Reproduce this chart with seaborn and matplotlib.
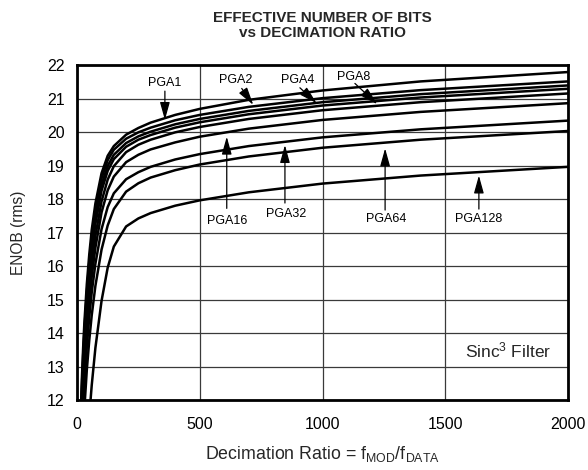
import numpy as np
import pandas as pd
import matplotlib
matplotlib.use("Agg")
import matplotlib.pyplot as plt
import seaborn as sns

# ---- data ----
decimation = [15, 20, 25, 30, 40, 50, 60, 75, 100, 125, 150, 200, 250, 300, 400, 500, 700, 1000, 1400, 2000]

enob_c0 = [11.50, 12.66, 13.56, 14.30, 15.46, 16.35, 17.08, 17.87, 18.77, 19.29, 19.58, 19.92, 20.12, 20.28, 20.51, 20.69, 20.96, 21.24, 21.51, 21.79]
enob_c1 = [11.26, 12.43, 13.33, 14.06, 15.22, 16.11, 16.82, 17.67, 18.61, 19.16, 19.47, 19.80, 19.99, 20.13, 20.35, 20.51, 20.75, 21.01, 21.25, 21.51]
enob_c2 = [11.05, 12.21, 13.11, 13.85, 15.01, 15.90, 16.62, 17.46, 18.42, 18.99, 19.32, 19.67, 19.87, 20.01, 20.23, 20.39, 20.63, 20.89, 21.13, 21.39]
enob_c3 = [10.84, 12.00, 12.90, 13.64, 14.80, 15.69, 16.41, 17.26, 18.25, 18.84, 19.19, 19.56, 19.77, 19.91, 20.13, 20.29, 20.53, 20.79, 21.03, 21.29]
enob_c4 = [10.45, 11.62, 12.52, 13.25, 14.42, 15.31, 16.03, 16.90, 17.93, 18.58, 18.98, 19.40, 19.62, 19.77, 19.99, 20.15, 20.39, 20.65, 20.89, 21.15]
enob_c5 = [10.10, 11.26, 12.17, 12.90, 14.06, 14.96, 15.68, 16.55, 17.60, 18.26, 18.67, 19.10, 19.32, 19.48, 19.69, 19.86, 20.10, 20.36, 20.60, 20.86]
enob_c6 = [9.63, 10.79, 11.69, 12.43, 13.59, 14.48, 15.21, 16.07, 17.10, 17.76, 18.17, 18.59, 18.80, 18.96, 19.18, 19.34, 19.58, 19.84, 20.08, 20.34]
enob_c7 = [8.94, 10.10, 11.00, 11.74, 12.90, 13.79, 14.53, 15.41, 16.49, 17.21, 17.70, 18.22, 18.47, 18.64, 18.86, 19.03, 19.27, 19.53, 19.77, 20.03]
enob_c8 = [5.44, 6.89, 8.02, 8.94, 10.39, 11.52, 12.44, 13.56, 14.96, 15.95, 16.58, 17.18, 17.42, 17.58, 17.80, 17.96, 18.20, 18.46, 18.70, 18.96]

series_names = ["c0", "c1", "c2", "c3", "c4", "c5", "c6", "c7", "c8"]
series_values = [enob_c0, enob_c1, enob_c2, enob_c3, enob_c4, enob_c5, enob_c6, enob_c7, enob_c8]

pga_labels = ["PGA1", "PGA2", "PGA4", "PGA8", "PGA16", "PGA32", "PGA64", "PGA128"]
label_x = [358, 646, 900, 1128, 613, 851, 1259, 1637]
label_y = [21.46, 21.55, 21.55, 21.64, 17.34, 17.55, 17.40, 17.40]
arrow_start_x = [358, 671, 908, 1132, 610, 847, 1255, 1637]
arrow_start_y = [21.22, 21.30, 21.32, 21.45, 17.72, 17.88, 17.67, 17.70]
arrow_tip_x = [358, 718, 976, 1223, 610, 847, 1255, 1637]
arrow_tip_y = [20.36, 20.81, 20.86, 20.83, 19.86, 19.61, 19.51, 18.70]

x_ticks = [0, 500, 1000, 1500, 2000]
y_ticks = list(range(12, 23))

# ---- build long-form table ----
rows = []
for name, vals in zip(series_names, series_values):
    for xv, yv in zip(decimation, vals):
        rows.append({"x": xv, "y": yv, "series": name})
df = pd.DataFrame(rows)

sns.set_theme(style="white")
plt.rcParams["font.family"] = ["Liberation Sans", "DejaVu Sans"]
plt.rcParams["mathtext.fontset"] = "custom"
plt.rcParams["mathtext.rm"] = "Liberation Sans"
plt.rcParams["mathtext.it"] = "Liberation Sans:italic"
plt.rcParams["mathtext.bf"] = "Liberation Sans:bold"

fig = plt.figure(figsize=(5.88, 4.70), dpi=100)
ax = fig.add_axes([77 / 588, 1 - 400 / 470, (568 - 77) / 588, (400 - 65) / 470])

sns.lineplot(data=df, x="x", y="y", hue="series", palette=["black"] * len(series_names),
             legend=False, ax=ax, linewidth=1.8, sort=True, estimator=None)

ax.set_xlim(0, 2000)
ax.set_ylim(12, 22)
ax.set_xticks(x_ticks)
ax.set_yticks(y_ticks)
ax.tick_params(axis="both", length=0, labelsize=11.5, colors="black")
ax.tick_params(axis="x", pad=12)
ax.tick_params(axis="y", pad=9)

ax.grid(True, color="#3a3a3a", linewidth=0.9)
ax.set_axisbelow(True)
for sp in ax.spines.values():
    sp.set_visible(True)
    sp.set_color("black")
    sp.set_linewidth(2.0)

ax.set_xlabel(r"Decimation Ratio = f$_{\mathregular{MOD}}$/f$_{\mathregular{DATA}}$", fontsize=12.8, labelpad=9)
ax.set_ylabel("ENOB (rms)", fontsize=11.2, labelpad=15)
ax.set_title("EFFECTIVE NUMBER OF BITS\nvs DECIMATION RATIO", fontsize=11, fontweight="bold",
             pad=20, linespacing=1.1)

for lab, lx, ly, sx, sy, tx, ty in zip(pga_labels, label_x, label_y, arrow_start_x, arrow_start_y,
                                       arrow_tip_x, arrow_tip_y):
    ax.text(lx, ly, lab, ha="center", va="center", fontsize=9, color="black")
    ax.annotate("", xy=(tx, ty), xytext=(sx, sy),
                arrowprops=dict(arrowstyle="-|>,head_length=0.9,head_width=0.25",
                                color="black", lw=0.9, shrinkA=0, shrinkB=0))

ax.text(1755, 13.48, r"Sinc$^{\mathregular{3}}$ Filter", ha="center", va="center", fontsize=12.5)

fig.savefig("out.png", dpi=100)
